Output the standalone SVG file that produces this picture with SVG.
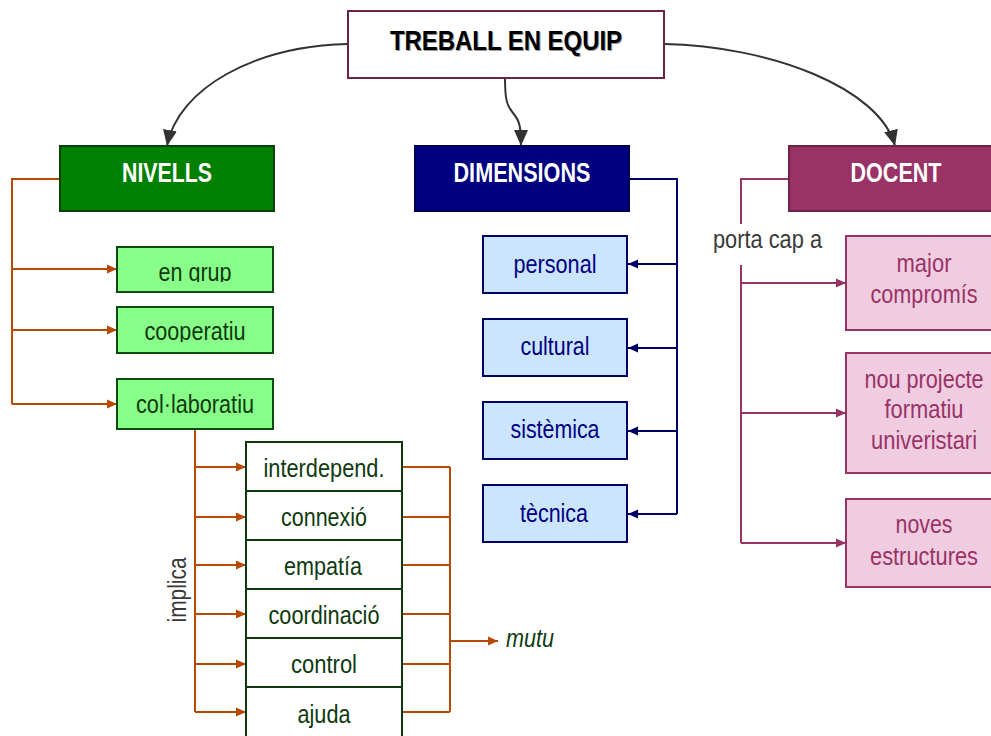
<svg xmlns="http://www.w3.org/2000/svg" width="991" height="736" viewBox="0 0 991 736">
  <style>
    text { font-family: "Liberation Sans Narrow", "Liberation Sans", Arial, sans-serif; text-anchor: middle; }
    .head { font-size: 27px; font-weight: bold; fill: #ffffff; }
    .lbl { font-size: 25px; }
    .g { fill: #0f3a0f; }
    .b { fill: #000080; }
    .p { fill: #993366; }
    .gray { fill: #3a3a3a; }
    .boxG { fill: #88ff88; stroke: #0f4a0f; stroke-width: 2; }
    .boxW { fill: #ffffff; stroke: #0f3a0f; stroke-width: 2; }
    .boxB { fill: #cce5ff; stroke: #000066; stroke-width: 2; }
    .boxP { fill: #f0cce0; stroke: #993366; stroke-width: 2; }
    .main { fill: none; stroke: #333333; stroke-width: 2; }
    .orange { fill: none; stroke: #b84a00; stroke-width: 2; }
    .navy { fill: none; stroke: #000066; stroke-width: 2; }
    .plum { fill: none; stroke: #993366; stroke-width: 2; }
  </style>
  <defs>
    <marker id="ahMain" markerUnits="userSpaceOnUse" markerWidth="16" markerHeight="16" viewBox="0 0 16 16" refX="16" refY="8" orient="auto">
      <path d="M0,1 L16,8 L0,15 Z" fill="#333333"/>
    </marker>
    <marker id="ahOrange" markerUnits="userSpaceOnUse" markerWidth="10" markerHeight="10" viewBox="0 0 10 10" refX="10" refY="5" orient="auto">
      <path d="M0,0.5 L10,5 L0,9.5 Z" fill="#b84a00"/>
    </marker>
    <marker id="ahNavy" markerUnits="userSpaceOnUse" markerWidth="10" markerHeight="10" viewBox="0 0 10 10" refX="10" refY="5" orient="auto">
      <path d="M0,0.5 L10,5 L0,9.5 Z" fill="#000066"/>
    </marker>
    <marker id="ahPlum" markerUnits="userSpaceOnUse" markerWidth="10" markerHeight="10" viewBox="0 0 10 10" refX="10" refY="5" orient="auto">
      <path d="M0,0.5 L10,5 L0,9.5 Z" fill="#993366"/>
    </marker>
    <clipPath id="clipGrup"><rect x="117" y="247" width="157" height="35"/></clipPath>
    <clipPath id="clipCoop"><rect x="117" y="307" width="157" height="35"/></clipPath>
  </defs>

  <!-- connectors -->
  <g id="connectors">
    <!-- root to the three branches -->
    <path class="main" d="M348,44 C255,46 178,88 167,146" marker-end="url(#ahMain)"/>
    <path class="main" d="M505,78 C505,100 507,106 513,113 C520,121 521,128 521,146" marker-end="url(#ahMain)"/>
    <path class="main" d="M664,44 C770,46 880,88 895,146" marker-end="url(#ahMain)"/>

    <!-- NIVELLS -->
    <path class="orange" d="M60,179 H12 V404"/>
    <path class="orange" d="M12,269 H117" marker-end="url(#ahOrange)"/>
    <path class="orange" d="M12,330 H117" marker-end="url(#ahOrange)"/>
    <path class="orange" d="M12,404 H117" marker-end="url(#ahOrange)"/>

    <!-- col·laboratiu implica -->
    <path class="orange" d="M195,429 V712"/>
    <path class="orange" d="M195,467 H246" marker-end="url(#ahOrange)"/>
    <path class="orange" d="M195,517 H246" marker-end="url(#ahOrange)"/>
    <path class="orange" d="M195,565 H246" marker-end="url(#ahOrange)"/>
    <path class="orange" d="M195,614 H246" marker-end="url(#ahOrange)"/>
    <path class="orange" d="M195,664 H246" marker-end="url(#ahOrange)"/>
    <path class="orange" d="M195,712 H246" marker-end="url(#ahOrange)"/>

    <!-- mutu -->
    <path class="orange" d="M402,467 H450 M402,517 H450 M402,565 H450 M402,614 H450 M402,664 H450 M402,712 H450 M450,467 V712"/>
    <path class="orange" d="M450,641 H498" marker-end="url(#ahOrange)"/>

    <!-- DIMENSIONS -->
    <path class="navy" d="M629,179 H677 V514"/>
    <path class="navy" d="M677,264 H628" marker-end="url(#ahNavy)"/>
    <path class="navy" d="M677,348 H628" marker-end="url(#ahNavy)"/>
    <path class="navy" d="M677,431 H628" marker-end="url(#ahNavy)"/>
    <path class="navy" d="M677,514 H628" marker-end="url(#ahNavy)"/>

    <!-- DOCENT porta cap a -->
    <path class="plum" d="M789,179 H741 V224 M741,265 V543"/>
    <path class="plum" d="M741,283 H846" marker-end="url(#ahPlum)"/>
    <path class="plum" d="M741,413 H846" marker-end="url(#ahPlum)"/>
    <path class="plum" d="M741,543 H846" marker-end="url(#ahPlum)"/>
  </g>

  <!-- root -->
  <g id="treball">
    <rect x="348" y="11" width="316" height="67" fill="#ffffff" stroke="#6b2346" stroke-width="2"/>
    <text x="507" y="51" font-size="28" font-weight="bold" fill="#9a9a9a" textLength="232" lengthAdjust="spacingAndGlyphs">TREBALL EN EQUIP</text>
    <text x="506" y="50" font-size="28" font-weight="bold" fill="#000000" textLength="232" lengthAdjust="spacingAndGlyphs">TREBALL EN EQUIP</text>
  </g>

  <!-- branch heads -->
  <g id="nivells">
    <rect x="60" y="146" width="214" height="65" fill="#008000" stroke="#0a400a" stroke-width="2"/>
    <text class="head" x="167" y="182" textLength="90" lengthAdjust="spacingAndGlyphs">NIVELLS</text>
  </g>
  <g id="dimensions">
    <rect x="415" y="146" width="214" height="65" fill="#000080" stroke="#000050" stroke-width="2"/>
    <text class="head" x="522" y="182" textLength="137" lengthAdjust="spacingAndGlyphs">DIMENSIONS</text>
  </g>
  <g id="docent">
    <rect x="789" y="146" width="215" height="65" fill="#993366" stroke="#6b2346" stroke-width="2"/>
    <text class="head" x="896" y="182" textLength="91" lengthAdjust="spacingAndGlyphs">DOCENT</text>
  </g>

  <!-- levels -->
  <g id="en-grup">
    <rect class="boxG" x="117" y="247" width="156" height="45"/>
    <text class="lbl g" x="195" y="281" clip-path="url(#clipGrup)" textLength="73" lengthAdjust="spacingAndGlyphs">en grup</text>
  </g>
  <g id="cooperatiu">
    <rect class="boxG" x="117" y="307" width="156" height="46"/>
    <text class="lbl g" x="195" y="340" clip-path="url(#clipCoop)" textLength="101" lengthAdjust="spacingAndGlyphs">cooperatiu</text>
  </g>
  <g id="collaboratiu">
    <rect class="boxG" x="117" y="379" width="156" height="50"/>
    <text class="lbl g" x="195" y="413" textLength="118" lengthAdjust="spacingAndGlyphs">col·laboratiu</text>
  </g>

  <!-- what collaboration implies -->
  <g id="interdepend">
    <rect class="boxW" x="246" y="442" width="156" height="49"/>
    <text class="lbl g" x="324" y="477" textLength="121" lengthAdjust="spacingAndGlyphs">interdepend.</text>
  </g>
  <g id="connexio">
    <rect class="boxW" x="246" y="491" width="156" height="49"/>
    <text class="lbl g" x="324" y="526" textLength="86" lengthAdjust="spacingAndGlyphs">connexió</text>
  </g>
  <g id="empatia">
    <rect class="boxW" x="246" y="540" width="156" height="49"/>
    <text class="lbl g" x="323" y="575" textLength="78" lengthAdjust="spacingAndGlyphs">empatía</text>
  </g>
  <g id="coordinacio">
    <rect class="boxW" x="246" y="589" width="156" height="49"/>
    <text class="lbl g" x="324" y="624" textLength="111" lengthAdjust="spacingAndGlyphs">coordinació</text>
  </g>
  <g id="control">
    <rect class="boxW" x="246" y="638" width="156" height="49"/>
    <text class="lbl g" x="324" y="673" textLength="66" lengthAdjust="spacingAndGlyphs">control</text>
  </g>
  <g id="ajuda">
    <rect class="boxW" x="246" y="687" width="156" height="60"/>
    <text class="lbl g" x="324" y="723" textLength="53" lengthAdjust="spacingAndGlyphs">ajuda</text>
  </g>

  <g id="labels">
    <text class="lbl gray" transform="translate(186,590) rotate(-90)" x="0" y="0" textLength="65" lengthAdjust="spacingAndGlyphs">implica</text>
    <text class="lbl g" x="506" y="647" font-style="italic" style="text-anchor:start" textLength="48" lengthAdjust="spacingAndGlyphs">mutu</text>
    <text class="lbl gray" x="713" y="248" style="text-anchor:start" textLength="109" lengthAdjust="spacingAndGlyphs">porta cap a</text>
  </g>

  <!-- dimensions -->
  <g id="personal">
    <rect class="boxB" x="483" y="236" width="144" height="57"/>
    <text class="lbl b" x="555" y="273" textLength="83" lengthAdjust="spacingAndGlyphs">personal</text>
  </g>
  <g id="cultural">
    <rect class="boxB" x="483" y="319" width="144" height="57"/>
    <text class="lbl b" x="555" y="355" textLength="69" lengthAdjust="spacingAndGlyphs">cultural</text>
  </g>
  <g id="sistemica">
    <rect class="boxB" x="483" y="402" width="144" height="57"/>
    <text class="lbl b" x="555" y="438" textLength="89" lengthAdjust="spacingAndGlyphs">sistèmica</text>
  </g>
  <g id="tecnica">
    <rect class="boxB" x="483" y="485" width="144" height="57"/>
    <text class="lbl b" x="554" y="522" textLength="68" lengthAdjust="spacingAndGlyphs">tècnica</text>
  </g>

  <!-- outcomes for teaching -->
  <g id="major-compromis">
    <rect class="boxP" x="846" y="236" width="160" height="94"/>
    <text class="lbl p" x="924" y="272" textLength="55" lengthAdjust="spacingAndGlyphs">major</text>
    <text class="lbl p" x="924" y="303" textLength="107" lengthAdjust="spacingAndGlyphs">compromís</text>
  </g>
  <g id="nou-projecte">
    <rect class="boxP" x="846" y="353" width="160" height="120"/>
    <text class="lbl p" x="924" y="388" textLength="119" lengthAdjust="spacingAndGlyphs">nou projecte</text>
    <text class="lbl p" x="924" y="418" textLength="79" lengthAdjust="spacingAndGlyphs">formatiu</text>
    <text class="lbl p" x="924" y="449" textLength="106" lengthAdjust="spacingAndGlyphs">univeristari</text>
  </g>
  <g id="noves-estructures">
    <rect class="boxP" x="846" y="499" width="160" height="88"/>
    <text class="lbl p" x="924" y="533" textLength="57" lengthAdjust="spacingAndGlyphs">noves</text>
    <text class="lbl p" x="924" y="565" textLength="108" lengthAdjust="spacingAndGlyphs">estructures</text>
  </g>
</svg>
